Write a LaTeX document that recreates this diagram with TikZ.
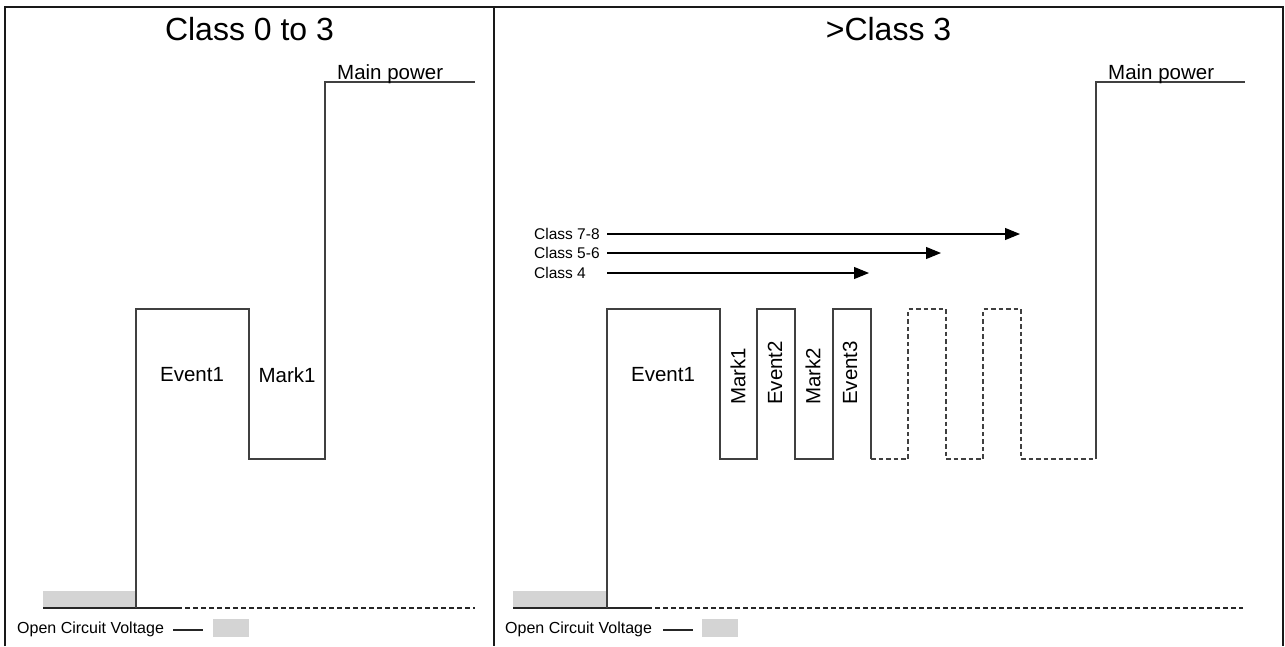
\documentclass[tikz,border=0pt]{standalone}
\usepackage{fontspec}
\setmainfont{Liberation Sans}
\usetikzlibrary{arrows.meta}
\begin{document}
\begin{tikzpicture}[x=1pt,y=-1pt,
  frame/.style={line width=1.5pt,black!90},
  wave/.style={line width=1.2pt,black!75},
  dwave/.style={wave,dash pattern=on 4.5pt off 3pt},
  basel/.style={line width=1.2pt,black!85},
  dbasel/.style={basel,dash pattern=on 5pt off 3pt},
  ocv/.style={fill=black!17,draw=none},
  lbl/.style={inner sep=0pt,font=\fontsize{20.5}{24}\selectfont},
  ttl/.style={inner sep=0pt,font=\fontsize{32}{38}\selectfont},
  small/.style={inner sep=0pt,font=\fontsize{15.5}{18}\selectfont},
  legtxt/.style={inner sep=0pt,font=\fontsize{16}{19}\selectfont},
  cls/.style={line width=1.1pt,black,-{Triangle[length=15pt,width=12pt]}}]
\useasboundingbox (0,0) rectangle (1285,646);
% frame
\draw[frame] (5,646) -- (5,7) -- (1283,7) -- (1283,646);
\draw[frame] (494,7) -- (494,646);
% titles
\node[ttl,anchor=base] (t1) at (249.5,40) {Class 0 to 3};
\node[ttl,anchor=base] (t2) at (888.5,40) {>Class 3};

% ---------- left panel ----------
\fill[ocv] (43,591) rectangle (136,608);
\draw[basel] (43,608) -- (177,608);
\draw[dbasel] (177,608) -- (475,608);
\draw[wave] (136,608) -- (136,309) -- (249,309) -- (249,459) -- (325,459) -- (325,82) -- (475,82);
\node[lbl,anchor=base west] (mp1) at (337,79) {Main power};
\node[lbl] (e1a) at (192,375) {Event1};
\node[lbl] (m1a) at (287,375) {Mark1};
% legend
\node[legtxt,anchor=base west] (ocv1) at (17,633) {Open Circuit Voltage};
\draw[basel] (173,630) -- (203,630);
\fill[ocv] (213,619) rectangle (249,637);

% ---------- right panel ----------
\fill[ocv] (513,591) rectangle (607,608);
\draw[basel] (513,608) -- (647,608);
\draw[dbasel] (647,608) -- (1243,608);
\draw[wave] (607,608) -- (607,309) -- (720,309) -- (720,459) -- (757,459) -- (757,309) -- (795,309) -- (795,459) -- (833,459) -- (833,309) -- (871,309) -- (871,459);
\draw[dwave] (871,459) -- (908,459) -- (908,309) -- (946,309) -- (946,459) -- (983,459) -- (983,309) -- (1021,309) -- (1021,459) -- (1096,459);
\draw[wave] (1096,459) -- (1096,82) -- (1245,82);
\node[lbl,anchor=base west] (mp2) at (1108,79) {Main power};
\node[lbl] (e1b) at (663,375) {Event1};
\node[lbl,rotate=90,anchor=west] (m1b) at (738,405) {Mark1};
\node[lbl,rotate=90,anchor=west] (e2b) at (775,405) {Event2};
\node[lbl,rotate=90,anchor=west] (m2b) at (813,405) {Mark2};
\node[lbl,rotate=90,anchor=west] (e3b) at (850,405) {Event3};
% class arrows
\node[small,anchor=west] (c78) at (534,234) {Class 7-8};
\node[small,anchor=west] (c56) at (534,253) {Class 5-6};
\node[small,anchor=west] (c4) at (534,273) {Class 4};
\coordinate (c78s) at (607,234);
\coordinate (c78e) at (1020,234);
\coordinate (c56s) at (607,253);
\coordinate (c56e) at (941,253);
\coordinate (c4s) at (607,273);
\coordinate (c4e) at (869,273);
\draw[cls] (c78s) -- (c78e);
\draw[cls] (c56s) -- (c56e);
\draw[cls] (c4s) -- (c4e);
% legend
\node[legtxt,anchor=base west] (ocv2) at (505,633) {Open Circuit Voltage};
\draw[basel] (663,630) -- (693,630);
\fill[ocv] (702,619) rectangle (738,637);
\end{tikzpicture}
\end{document}
